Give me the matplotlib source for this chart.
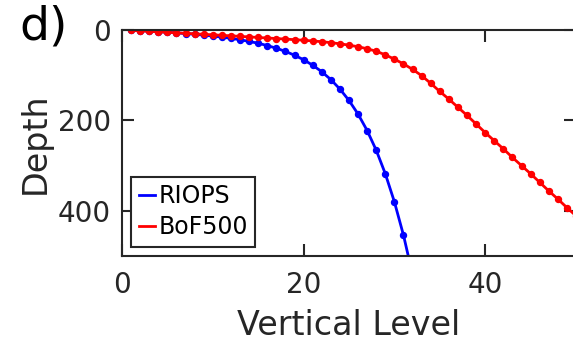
import numpy as np
import matplotlib
matplotlib.use("Agg")
import matplotlib.pyplot as plt

# profundidades por nivel vertical
riops_levels = list(range(1, 33))
riops_depth = [0.5, 1.5, 2.6, 3.8, 5.1, 6.4, 7.9, 9.6, 11.4, 13.5,
               15.8, 18.5, 21.6, 25.2, 29.4, 34.4, 40.3, 47.4, 55.8, 65.8,
               77.9, 92.3, 109.7, 130.7, 155.9, 186.1, 222.5, 266.0, 318.1, 380.2,
               453.9, 541.1]

bof_levels = list(range(1, 53))
bof_depth = [1.0, 2.0, 3.0, 4.1, 5.1, 6.2, 7.3, 8.4, 9.5, 10.6,
             11.8, 12.9, 14.1, 15.3, 16.5, 17.7, 18.9, 20.1, 21.4, 22.7,
             24.2, 25.9, 28.0, 30.5, 33.5, 37.0, 41.5, 47.0, 55.0, 64.5,
             75.0, 87.0, 101.0, 118.0, 136.0, 153.0, 171.0, 189.0, 208.0, 227.0,
             245.0, 263.0, 282.0, 300.0, 318.0, 337.0, 356.0, 374.0, 393.0, 411.0,
             430.0, 449.0]

grey = '#262626'

fig = plt.figure(figsize=(5.73, 3.42), dpi=100)
ax = fig.add_axes([122 / 573, 86 / 342, 454 / 573, 226 / 342])

ax.plot(riops_levels, riops_depth, '-o', color='blue', lw=2, ms=4.3, label='RIOPS')
ax.plot(bof_levels, bof_depth, '-o', color='red', lw=2, ms=4.3, label='BoF500')

ax.set_xlim(0, 50)
ax.set_ylim(500, 0)
ax.set_xticks([0, 20, 40])
ax.set_yticks([0, 200, 400])

ax.tick_params(direction='in', length=8.5, width=1.5, colors=grey,
               labelsize=20, top=True, right=True)
ax.tick_params(axis='x', pad=11)
ax.tick_params(axis='y', pad=8)
for s in ax.spines.values():
    s.set_linewidth(1.5)
    s.set_color(grey)

ax.set_xlabel('Vertical Level', fontsize=24, color=grey, labelpad=7)
ax.set_ylabel('Depth', fontsize=24, color=grey, labelpad=4)

leg = ax.legend(loc='lower left', fontsize=17, handlelength=0.7,
                handletextpad=0.15, borderpad=0.3, labelspacing=0.3,
                borderaxespad=0.4, fancybox=False, framealpha=1)
leg.get_frame().set_edgecolor(grey)
leg.get_frame().set_linewidth(1.5)
for h in leg.legend_handles:
    h.set_marker('')

fig.text(19 / 573, 1 - 5 / 342, 'd)', fontsize=34, va='top', ha='left', color='black')

fig.savefig('out.png', dpi=100)
